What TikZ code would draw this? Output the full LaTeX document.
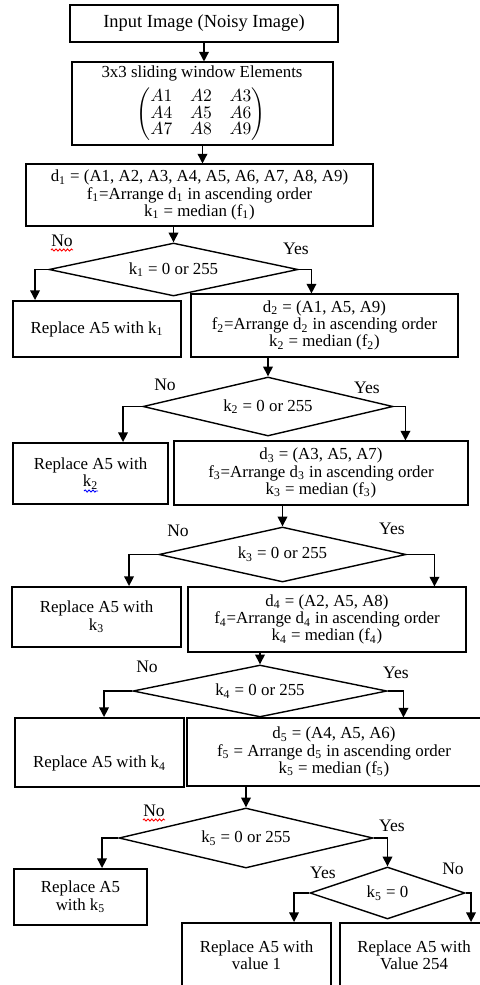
\documentclass[tikz,border=0pt]{standalone}
\usepackage{fontspec}
\setmainfont{Liberation Serif}
\usepackage{amsmath}
\usetikzlibrary{shapes.geometric, arrows.meta, calc, decorations.pathmorphing}

\tikzset{
  caja/.style 2 args={draw, line width=0.6pt, align=center, inner xsep=2pt, inner ysep=1pt,
    minimum width=#1*0.02cm, minimum height=#2*0.02cm},
  reemplazo/.style 2 args={caja={#1}{#2}, line width=1.1pt},
  rombo/.style 2 args={draw, diamond, line width=0.8pt, inner sep=0pt, aspect=4,
    minimum width=#1*0.02cm, minimum height=#2*0.02cm},
  flecha/.style={line width=0.8pt, -{Triangle[width=5.5pt,length=5.5pt]}},
  etiqueta/.style={inner sep=0pt, font=\fontsize{10}{10}\selectfont},
  subrayado/.style={draw=#1, line width=0.5pt, decorate,
    decoration={snake, segment length=2.2pt, amplitude=0.6pt}}
}

\begin{document}
\begin{tikzpicture}[x=0.02cm, y=-0.02cm, font=\fontsize{9.6}{9.8}\selectfont]
	\useasboundingbox (0,0) rectangle (480,985);
	\clip (0,0) rectangle (480,985);

	% Entrada y ventana
	\node[caja={268}{37}, font=\fontsize{10.5}{10}\selectfont] (entrada) at (204,23.5) {Input Image (Noisy Image)};
	\node[caja={261}{83}] (ventana) at (202.5,103.5) {};
	\node[inner sep=0pt] (titulo) at (202,73) {3x3 sliding window Elements};
	\node[inner sep=0pt] (matriz) at (201,114.5)
		{\renewcommand{\arraystretch}{0.85}$\begin{pmatrix} A1 & A2 & A3\\ A4 & A5 & A6\\ A7 & A8 & A9 \end{pmatrix}$};
	\node[caja={347}{62}] (d1) at (199.5,195) {d\textsubscript{1} = (A1, A2, A3, A4, A5, A6, A7, A8, A9)\\
		f\textsubscript{1}=Arrange d\textsubscript{1} in ascending order\\ k\textsubscript{1} = median (f\textsubscript{1})};

	% Nivel 1
	\node[rombo={249}{53}] (r1) at (173.5,269.5) {k\textsubscript{1} = 0 or 255};
	\node[reemplazo={168}{56}] (s1) at (97,329) {Replace A5 with k\textsubscript{1}};
	\node[caja={267}{63}] (d2) at (324.5,325.5) {d\textsubscript{2} = (A1, A5, A9)\\
		f\textsubscript{2}=Arrange d\textsubscript{2} in ascending order\\ k\textsubscript{2} = median (f\textsubscript{2})};

	% Nivel 2
	\node[rombo={250}{59}] (r2) at (268,406.5) {k\textsubscript{2} = 0 or 255};
	\node[reemplazo={155}{61}] (s2) at (90.5,473.5) {Replace A5 with\\ k\textsubscript{2}};
	\node[caja={294}{64}] (d3) at (321,473) {d\textsubscript{3} = (A3, A5, A7)\\
		f\textsubscript{3}=Arrange d\textsubscript{3} in ascending order\\ k\textsubscript{3} = median (f\textsubscript{3})};

	% Nivel 3
	\node[rombo={247}{55}] (r3) at (282.5,554.5) {k\textsubscript{3} = 0 or 255};
	\node[reemplazo={169}{60}] (s3) at (96.5,617) {Replace A5 with\\ k\textsubscript{3}};
	\node[caja={278}{65}] (d4) at (327,619.5) {d\textsubscript{4} = (A2, A5, A8)\\
		f\textsubscript{4}=Arrange d\textsubscript{4} in ascending order\\ k\textsubscript{4} = median (f\textsubscript{4})};

	% Nivel 4
	\node[rombo={254}{52}] (r4) at (260,691) {k\textsubscript{4} = 0 or 255};
	\node[reemplazo={169}{69}, text height=17pt, text depth=0pt] (s4) at (99.5,752.5) {Replace A5 with k\textsubscript{4}};
	\node[caja={294}{68}] (d5) at (334,752) {d\textsubscript{5} = (A4, A5, A6)\\
		f\textsubscript{5} = Arrange d\textsubscript{5} in ascending order\\ k\textsubscript{5} = median (f\textsubscript{5})};

	% Nivel 5
	\node[rombo={254}{60}] (r5) at (246,838) {k\textsubscript{5} = 0 or 255};
	\node[reemplazo={133}{56}] (s5) at (80.5,897) {Replace A5\\ with k\textsubscript{5}};
	\node[rombo={155}{52}] (r6) at (387.5,893) {k\textsubscript{5} = 0};
	\node[reemplazo={149}{64}] (v1) at (256.5,955) {Replace A5 with\\ value 1};
	\node[reemplazo={148}{64}] (v254) at (414,955) {Replace A5 with\\ Value 254};

	% Flechas
	\draw[flecha] (entrada.south) -- (entrada.south |- ventana.north);
	\draw[flecha] (ventana.south) -- (ventana.south |- d1.north);
	\foreach \d/\r in {d1/r1, d2/r2, d3/r3, d4/r4, d5/r5}
		{
			\draw[flecha] (\d.south -| \r.north) -- (\r.north);
		}
	\foreach \r/\s/\d/\a/\b in {r1/s1/d2/23/121, r2/s2/d3/111/232, r3/s3/d4/118/247, r4/s4/d5/90/217}
		{
			\draw[flecha] (\r.west) -| ($(\s.north west)+(\a,0)$);
			\draw[flecha] (\r.east) -| ($(\d.north west)+(\b,0)$);
		}
	\draw[flecha] (r5.west) -| ($(s5.north west)+(89,0)$);
	\draw[flecha] (r5.east) -| (r6.north);
	\draw[flecha] (r6.west) -| ($(v1.north west)+(113,0)$);
	\draw[flecha] (r6.east) -| ($(v254.north west)+(132,0)$);

	% Etiquetas
	\node[etiqueta] (no1) at (62,241) {No};
	\node[etiqueta] (si1) at (296,249) {Yes};
	\node[etiqueta] (no2) at (165,385) {No};
	\node[etiqueta] (si2) at (367,388) {Yes};
	\node[etiqueta] (no3) at (178,531) {No};
	\node[etiqueta] (si3) at (392,529) {Yes};
	\node[etiqueta] (no4) at (147,667) {No};
	\node[etiqueta] (si4) at (396,673) {Yes};
	\node[etiqueta] (no5) at (154,811) {No};
	\node[etiqueta] (si5) at (392,826) {Yes};
	\node[etiqueta] (si6) at (323,873) {Yes};
	\node[etiqueta] (no6) at (453,869) {No};

	% Subrayados
	\draw[subrayado=red] ([yshift=-1.6pt]no1.south west) -- ([yshift=-1.6pt]no1.south east);
	\draw[subrayado=red] ([yshift=-1.6pt]no5.south west) -- ([yshift=-1.6pt]no5.south east);
	\draw[subrayado=blue] (84,491) -- (98,491);
\end{tikzpicture}
\end{document}
